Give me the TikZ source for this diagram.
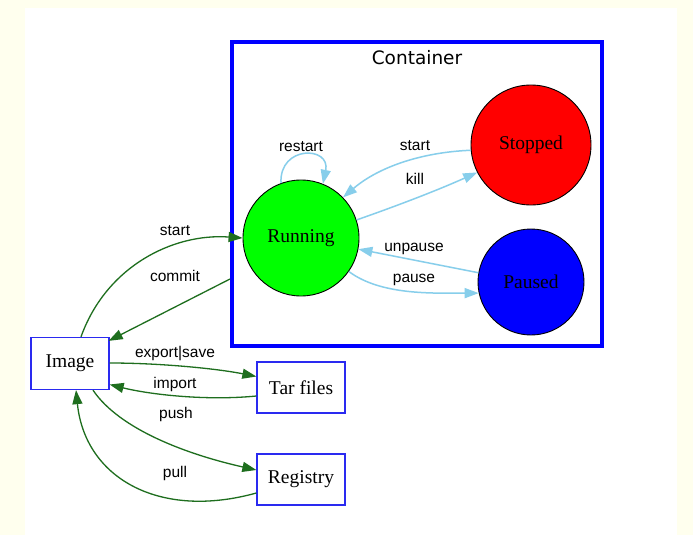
\documentclass[tikz,border=0pt]{standalone}
\usepackage{fontspec}
\setmainfont{Liberation Serif}
\setsansfont{Liberation Sans}
\newfontfamily\contfont{DejaVu Sans}
\usetikzlibrary{arrows.meta}
\definecolor{cream}{HTML}{FFFFEE}
\definecolor{dgreen}{HTML}{1E6E1E}
\definecolor{sky}{HTML}{87CEEB}
\definecolor{pureblue}{HTML}{0000FF}
\definecolor{boxblue}{HTML}{2A2AF0}
\tikzset{
  state/.style={circle, draw=black, line width=0.9pt, inner sep=0pt,
    font=\fontsize{19.5}{22}\selectfont},
  boxnode/.style={rectangle, draw=boxblue, line width=1.3pt, fill=white,
    inner sep=0pt, font=\fontsize{19.5}{22}\selectfont},
  elabel/.style={font=\sffamily\fontsize{15.5}{18}\selectfont, inner sep=0pt,
    text height=1.55ex, text depth=0.3ex},
  tip/.style={-{Triangle[length=14pt,width=10pt]}},
  gedge/.style={tip, draw=dgreen, line width=1.3pt},
  bedge/.style={tip, draw=sky, line width=1.5pt},
}
\begin{document}
\begin{tikzpicture}[x=1pt,y=-1pt]
\fill[cream] (0,0) rectangle (693,535);
\fill[white] (25,8) rectangle (677,535);
\useasboundingbox (0,0) rectangle (693,535);

% container cluster
\node[draw=pureblue, line width=4pt, minimum width=370pt, minimum height=304pt,
  inner sep=0pt] (cont) at (417,194) {};
\node[font=\contfont\fontsize{18.5}{22}\selectfont, inner sep=0pt] (conttitle) at (417,58) {Container};

% states
\node[state, fill={rgb,255:red,0;green,255;blue,0}, minimum size=116pt] (run) at (301,238) {Running};
\node[state, fill={rgb,255:red,255;green,0;blue,0}, minimum size=120pt] (stop) at (531,145) {Stopped};
\node[state, fill=pureblue, minimum size=106pt] (pause) at (531,282) {Paused};

% boxes
\node[boxnode, minimum width=78pt, minimum height=52pt] (img) at (70,363.5) {Image};
\node[boxnode, minimum width=88pt, minimum height=51pt] (tar) at (301,387.5) {Tar files};
\node[boxnode, minimum width=88pt, minimum height=51pt] (reg) at (301,479.5) {Registry};

% container edges
\draw[bedge] (run.110) .. controls +(-2,-38) and +(8,-38) .. (run.68);
\node[elabel] (lrestart) at (301,149) {restart};
\draw[bedge] (stop.185) .. controls +(-50,2) and +(35,-30) .. (run.44);
\node[elabel] (lstart2) at (415,148) {start};
\draw[bedge] (run.18) .. controls +(40,-14) and +(-40,18) .. (stop.207);
\node[elabel] (lkill) at (415,182) {kill};
\draw[bedge] (pause.170) -- (run.349);
\node[elabel] (lunpause) at (414,249) {unpause};
\draw[bedge] (run.325) .. controls +(32,24) and +(-45,0) .. (pause.192);
\node[elabel] (lpause) at (414,280) {pause};

% image edges
\draw[gedge] ([xshift=11pt]img.north) .. controls +(25,-70) and +(-70,-5) .. (run.west);
\node[elabel] (lstart) at (175,233) {start};
\draw[gedge] ([yshift=-85pt]cont.west) -- ([xshift=-1pt,yshift=-4pt]img.north east);
\node[elabel] (lcommit) at (175,279) {commit};
\draw[gedge] ([yshift=0.5pt]img.east) .. controls +(50,0) and +(-40,-8) .. ([yshift=11pt]tar.west);
\node[elabel] (lexport) at (175,355) {export|save};
\draw[gedge] ([yshift=-8.5pt]tar.west) .. controls +(-50,5) and +(40,10) .. ([yshift=-21pt]img.east);
\node[elabel] (limport) at (175,386) {import};
\draw[gedge] ([xshift=23pt]img.south) .. controls +(27,40) and +(-67,-15) .. ([yshift=9.5pt]reg.west);
\node[elabel] (lpush) at (176,416) {push};
\draw[gedge] ([yshift=-13.5pt]reg.west) .. controls +(-97,27) and +(9,88) .. ([xshift=6pt]img.south);
\node[elabel] (lpull) at (175,475) {pull};
\end{tikzpicture}
\end{document}
